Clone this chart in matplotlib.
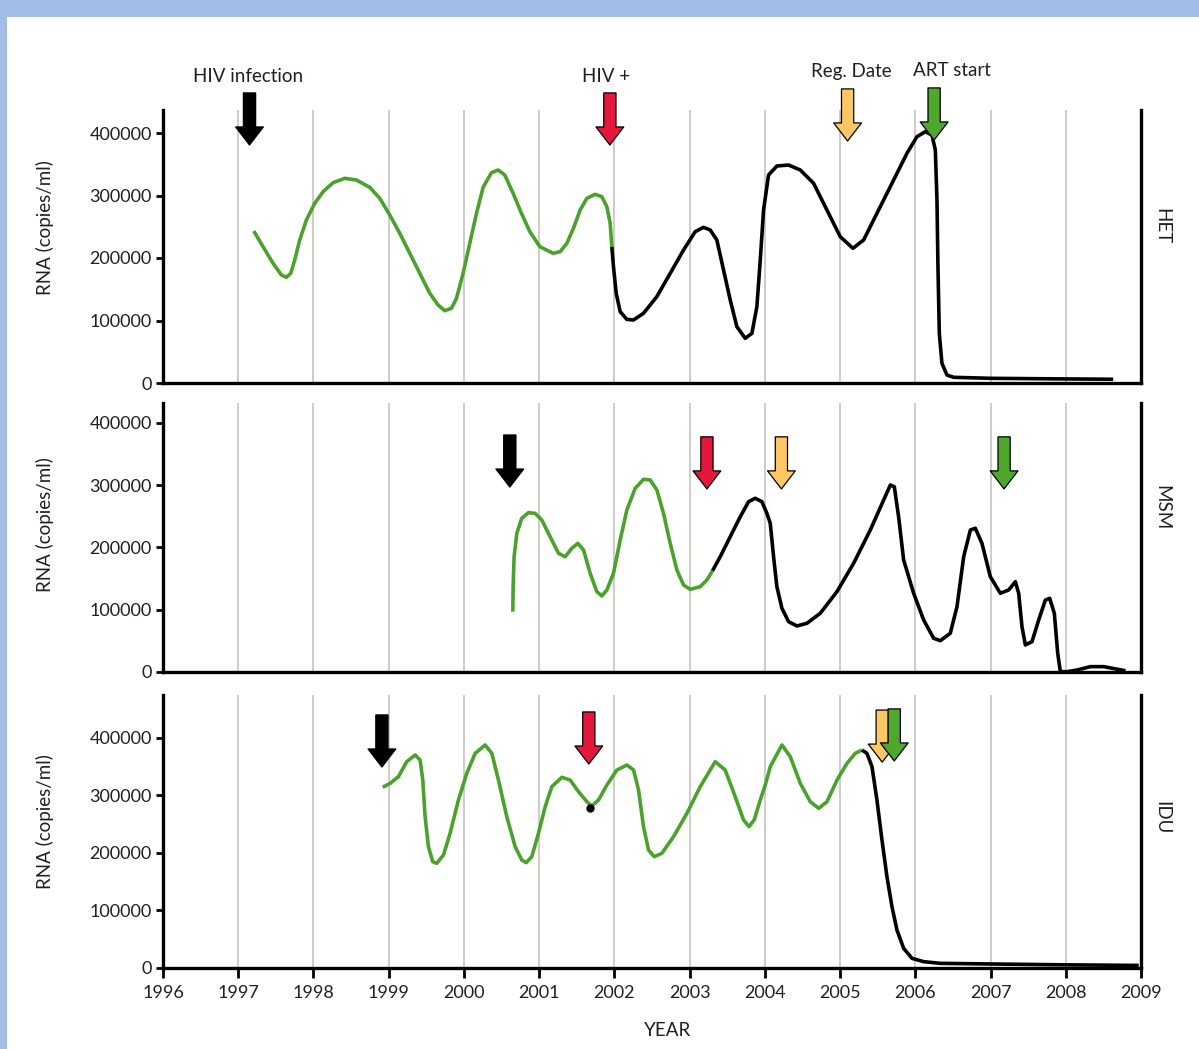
import matplotlib
matplotlib.use("Agg")
import matplotlib.pyplot as plt
from matplotlib.patches import Rectangle

plt.rcParams['font.family'] = ['Lato', 'DejaVu Sans']

# ---------------- data ----------------
years = list(range(1996, 2010))
yticks = [0, 100000, 200000, 300000, 400000]
panel_names = ["HET", "MSM", "IDU"]
event_labels = ["HIV infection", "HIV +", "Reg. Date", "ART start"]

# HET
het_green_x = [1997.206, 1997.330, 1997.463, 1997.574, 1997.640, 1997.698, 1997.751, 1997.817, 1997.906, 1998.017,
               1998.128, 1998.261, 1998.416, 1998.571, 1998.748, 1998.881, 1999.014, 1999.147, 1999.280, 1999.413,
               1999.546, 1999.657, 1999.745, 1999.834, 1999.901, 1999.989, 2000.078, 2000.167, 2000.255, 2000.366,
               2000.455, 2000.543, 2000.654, 2000.765, 2000.876, 2001.009, 2001.186, 2001.279, 2001.368, 2001.456,
               2001.545, 2001.634, 2001.744, 2001.833, 2001.900, 2001.944, 2001.966]
het_green_y = [243200, 218100, 191500, 172800, 169100, 175500, 196800, 228800, 260800, 287500,
               306100, 320500, 327500, 324800, 313100, 295500, 268800, 239500, 207500, 175500,
               143500, 124800, 115700, 119500, 135500, 175500, 223500, 271500, 313100, 336500,
               340800, 332800, 303500, 271500, 242100, 218100, 207500, 210100, 223500, 247500,
               276800, 295500, 301900, 298100, 282100, 255500, 218100]
het_black_x = [2001.966, 2001.988, 2002.024, 2002.077, 2002.165, 2002.254, 2002.387, 2002.564, 2002.742, 2002.919,
               2003.074, 2003.185, 2003.274, 2003.362, 2003.451, 2003.540, 2003.628, 2003.739, 2003.828, 2003.894,
               2003.939, 2003.983, 2004.049, 2004.160, 2004.315, 2004.471, 2004.648, 2004.825, 2005.002, 2005.171,
               2005.313, 2005.490, 2005.712, 2005.889, 2006.022, 2006.132, 2006.221, 2006.266, 2006.288, 2006.301,
               2006.319, 2006.354, 2006.421, 2006.509, 2007.000, 2008.000, 2008.630]
het_black_y = [218100, 186100, 143500, 114100, 101900, 100800, 111500, 138100, 175500, 212800,
               242100, 249100, 244800, 228800, 180800, 132800, 90100, 71500, 79500, 122100,
               196800, 276800, 332800, 347200, 348800, 340800, 319500, 276800, 234100, 215500,
               228800, 271500, 324800, 367500, 394100, 402100, 396800, 372800, 292800, 186100,
               79500, 31500, 12800, 9100, 7500, 6500, 6000]

# MSM
msm_green_x = [2000.650, 2000.654, 2000.667, 2000.703, 2000.769, 2000.858, 2000.947, 2001.035, 2001.146, 2001.257,
               2001.346, 2001.434, 2001.514, 2001.590, 2001.678, 2001.767, 2001.833, 2001.900, 2001.988, 2002.077,
               2002.166, 2002.276, 2002.387, 2002.476, 2002.565, 2002.653, 2002.742, 2002.831, 2002.919, 2003.008,
               2003.141, 2003.230, 2003.305]
msm_green_y = [96900, 137000, 185200, 222700, 246800, 255900, 254800, 244100, 217300, 190600,
               185200, 198600, 206600, 195900, 158500, 129000, 122100, 131700, 158500, 212000,
               260200, 295000, 309500, 308400, 292300, 254800, 206600, 163800, 139700, 132800,
               137000, 147800, 162700]
msm_black_x = [2003.305, 2003.407, 2003.540, 2003.673, 2003.784, 2003.872, 2003.961, 2004.027, 2004.072, 2004.116,
               2004.160, 2004.227, 2004.316, 2004.426, 2004.559, 2004.737, 2004.958, 2005.180, 2005.402, 2005.579,
               2005.668, 2005.721, 2005.778, 2005.845, 2005.978, 2006.111, 2006.244, 2006.333, 2006.465, 2006.554,
               2006.643, 2006.732, 2006.798, 2006.886, 2006.997, 2007.130, 2007.241, 2007.330, 2007.374, 2007.418,
               2007.463, 2007.551, 2007.640, 2007.729, 2007.786, 2007.848, 2007.893, 2007.928, 2008.017, 2008.150,
               2008.327, 2008.505, 2008.793]
msm_black_y = [162700, 185200, 217300, 249400, 273500, 279000, 273500, 254800, 238800, 185200,
               137000, 102300, 80800, 73900, 78200, 94300, 129000, 174600, 228100, 276200,
               300300, 297600, 249400, 179900, 126400, 83500, 54100, 50300, 62200, 104900,
               185200, 228100, 230800, 206600, 153100, 126400, 131700, 145000, 126400, 72800,
               43400, 48700, 83500, 115600, 118300, 94300, 30000, 500, 500, 3200,
               8600, 8600, 2000]

# IDU
idu_green_x = [1998.921, 1999.019, 1999.129, 1999.240, 1999.351, 1999.418, 1999.453, 1999.484, 1999.528, 1999.586,
               1999.639, 1999.728, 1999.816, 1999.927, 2000.038, 2000.149, 2000.282, 2000.371, 2000.459, 2000.570,
               2000.681, 2000.769, 2000.827, 2000.902, 2000.991, 2001.080, 2001.168, 2001.302, 2001.412, 2001.523,
               2001.634, 2001.700, 2001.789, 2001.900, 2002.033, 2002.166, 2002.255, 2002.321, 2002.387, 2002.454,
               2002.529, 2002.631, 2002.786, 2002.964, 2003.141, 2003.340, 2003.473, 2003.606, 2003.717, 2003.790,
               2003.860, 2003.939, 2004.005, 2004.072, 2004.227, 2004.338, 2004.471, 2004.604, 2004.715, 2004.826,
               2004.959, 2005.092, 2005.202, 2005.291]
idu_green_y = [314200, 321100, 332700, 358800, 370400, 361700, 326900, 263100, 211000, 184900,
               182000, 196500, 234200, 292200, 338500, 373300, 387800, 373300, 326900, 263100,
               211000, 187800, 183200, 193600, 234200, 280500, 315300, 331600, 326900, 306600,
               289200, 281700, 292200, 318200, 344300, 353000, 344300, 309500, 245800, 205200,
               193600, 199400, 228400, 269000, 315300, 358800, 344300, 297900, 257400, 245800,
               258000, 292200, 318000, 350100, 387800, 367500, 321100, 289200, 277700, 289200,
               326900, 355900, 373300, 379100]
idu_black_x = [2005.291, 2005.357, 2005.424, 2005.490, 2005.557, 2005.623, 2005.690, 2005.756, 2005.845, 2005.956,
               2006.111, 2006.332, 2007.000, 2008.000, 2008.970]
idu_black_y = [379100, 373300, 350100, 292200, 222600, 158800, 106600, 66100, 34200, 16800,
               11000, 8100, 7000, 5500, 4500]
idu_dot_x = [2001.67]
idu_dot_y = [278000]

# event arrows (tip position) per panel: infection, HIV+, Reg. date, ART start
arrow_colors = ["#000000", "#e5173c", "#fdc863", "#4fa82e"]
het_arrow_x = [1997.15, 2001.94, 2005.10, 2006.25]
het_arrow_y = [380800, 380800, 387200, 388800]
msm_arrow_x = [2000.61, 2003.23, 2004.22, 2007.18]
msm_arrow_y = [297000, 294000, 294000, 294000]
idu_arrow_x = [1998.91, 2001.66, 2005.56, 2005.72]
idu_arrow_y = [349500, 354700, 358000, 360000]

# ---------------- figure ----------------
W, H = 1199, 1049
fig = plt.figure(figsize=(W / 100, H / 100), dpi=100)
fig.patch.set_facecolor("white")

def fx(px):
    return px / W

def fy(py):
    return 1 - py / H

# light blue frame
fig.patches.append(Rectangle((0, fy(17)), 1, 17 / H, transform=fig.transFigure,
                             facecolor="#a4bde8", edgecolor="none", zorder=0))
fig.patches.append(Rectangle((0, 0), 7 / W, 1, transform=fig.transFigure,
                             facecolor="#a4bde8", edgecolor="none", zorder=0))

GREEN = "#4aa22d"
GRID = "#c9c8c2"
TXT = "#231f20"
left, right = 163, 1141
panels = [
    dict(top=110, bottom=383, vpp=1600.0),
    dict(top=403, bottom=672, vpp=1606.0),
    dict(top=695, bottom=968, vpp=1739.0),
]
series = [
    (het_green_x, het_green_y, het_black_x, het_black_y, het_arrow_x, het_arrow_y),
    (msm_green_x, msm_green_y, msm_black_x, msm_black_y, msm_arrow_x, msm_arrow_y),
    (idu_green_x, idu_green_y, idu_black_x, idu_black_y, idu_arrow_x, idu_arrow_y),
]
label_y = [228, 525, 822]
name_y = [226, 508, 818]

axes = []
for i, p in enumerate(panels):
    ax = fig.add_axes([fx(left), fy(p["bottom"]), fx(right) - fx(left),
                       (p["bottom"] - p["top"]) / H])
    axes.append(ax)
    ax.set_xlim(years[0], years[-1])
    ax.set_ylim(0, (p["bottom"] - p["top"]) * p["vpp"])
    ax.set_xticks(years)
    ax.set_yticks(yticks)
    ax.set_yticklabels([str(v) for v in yticks], fontsize=13, color=TXT)
    for y in years[1:-1]:
        ax.axvline(y, color=GRID, lw=1.3, zorder=0)
    for s in ["left", "right", "bottom"]:
        ax.spines[s].set_linewidth(2.4)
        ax.spines[s].set_color("black")
    ax.spines["top"].set_visible(False)
    ax.tick_params(axis="y", length=5, width=2, pad=3, right=False)
    if i < 2:
        ax.tick_params(axis="x", length=0, labelbottom=False)
    else:
        ax.set_xticklabels([str(y) for y in years], fontsize=13, color=TXT)
        ax.tick_params(axis="x", length=7, width=2, pad=5)
    gx, gy, bx, by, axx, ayy = series[i]
    ax.plot(gx, gy, color=GREEN, lw=2.6, solid_joinstyle="round", solid_capstyle="butt", zorder=3)
    ax.plot(bx, by, color="black", lw=2.6, solid_joinstyle="round", solid_capstyle="butt", zorder=3)
    for x, y, c in zip(axx, ayy, arrow_colors):
        ax.annotate("", xy=(x, y), xytext=(0, 37.5), textcoords="offset points",
                    arrowprops=dict(arrowstyle="simple,head_length=13,head_width=20,tail_width=8.8",
                                    mutation_scale=1, fc=c, ec="black", lw=0.9,
                                    shrinkA=0, shrinkB=0),
                    annotation_clip=False, zorder=5)
    fig.text(fx(45), fy(label_y[i]), "RNA (copies/ml)", rotation=90, ha="center",
             va="center", fontsize=13.5, color=TXT)
    fig.text(fx(1162), fy(name_y[i]), panel_names[i], rotation=-90, ha="center",
             va="center", fontsize=13.5, color=TXT)

axes[2].plot(idu_dot_x, idu_dot_y, "o", color="black", ms=5, zorder=4)

# event labels above top panel
for txt, px, py in zip(event_labels, [248, 606, 851, 952], [76, 76, 72, 71]):
    fig.text(fx(px), fy(py), txt, ha="center", va="center", fontsize=13.5, color=TXT)

fig.text(fx(668), fy(1030), "YEAR", ha="center", va="center", fontsize=13.5, color=TXT)

fig.savefig("out.png", dpi=100, facecolor="white")
